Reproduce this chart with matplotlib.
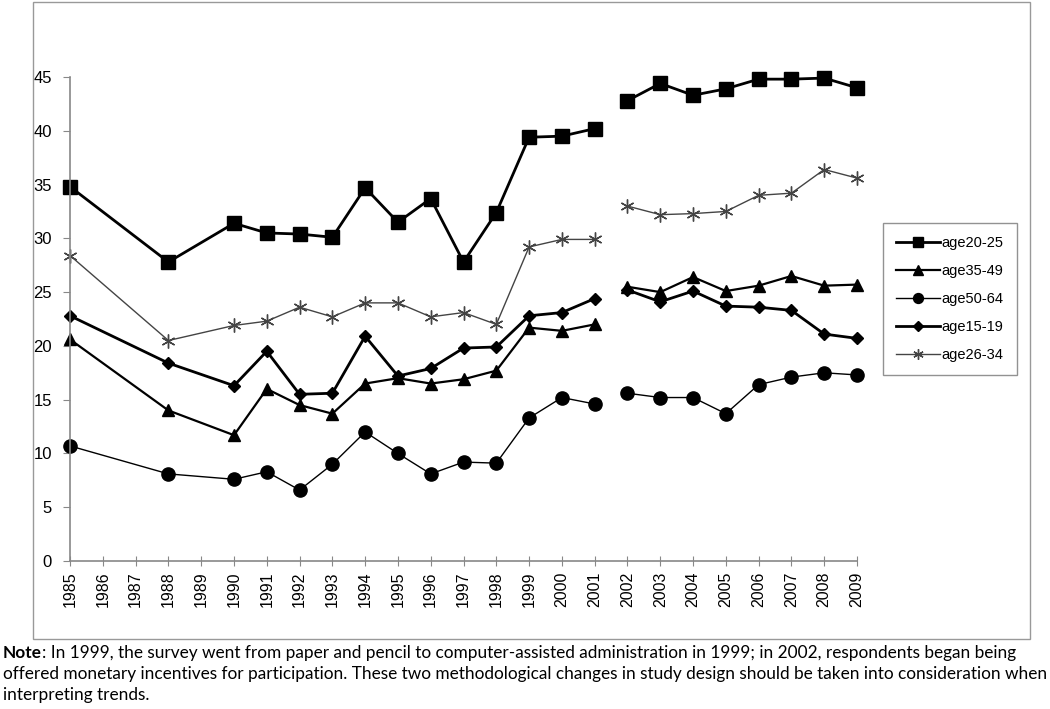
import matplotlib
matplotlib.use("Agg")
import matplotlib.pyplot as plt
from matplotlib.patches import Rectangle
import numpy as np

# survey years (1986, 1987, 1989 missing)
years = [1985, 1988, 1990, 1991, 1992, 1993, 1994, 1995, 1996, 1997, 1998,
         1999, 2000, 2001, 2002, 2003, 2004, 2005, 2006, 2007, 2008, 2009]
break_year = 2002  # methodology change -> lines not connected

age20_25 = [34.8, 27.8, 31.4, 30.5, 30.4, 30.1, 34.7, 31.5, 33.7, 27.8, 32.4,
            39.4, 39.5, 40.2, 42.8, 44.4, 43.3, 43.9, 44.8, 44.8, 44.9, 44.0]
age35_49 = [20.6, 14.0, 11.7, 16.0, 14.5, 13.7, 16.5, 17.0, 16.5, 16.9, 17.7,
            21.7, 21.4, 22.0, 25.5, 25.0, 26.4, 25.1, 25.6, 26.5, 25.6, 25.7]
age50_64 = [10.7, 8.1, 7.6, 8.3, 6.6, 9.0, 12.0, 10.0, 8.1, 9.2, 9.1,
            13.3, 15.2, 14.6, 15.6, 15.2, 15.2, 13.7, 16.4, 17.1, 17.5, 17.3]
age15_19 = [22.8, 18.4, 16.3, 19.5, 15.5, 15.6, 20.9, 17.2, 17.9, 19.8, 19.9,
            22.8, 23.1, 24.4, 25.2, 24.1, 25.1, 23.7, 23.6, 23.3, 21.1, 20.7]
age26_34 = [28.4, 20.5, 21.9, 22.3, 23.6, 22.7, 24.0, 24.0, 22.7, 23.1, 22.0,
            29.2, 29.9, 29.9, 33.0, 32.2, 32.3, 32.5, 34.0, 34.2, 36.4, 35.6]

xtick_years = list(range(1985, 2010))
yticks = [0, 5, 10, 15, 20, 25, 30, 35, 40, 45]

note_bold = "Note"
note_lines = [
    ": In 1999, the survey went from paper and pencil to computer-assisted administration in 1999; in 2002, respondents began being",
    "offered monetary incentives for participation. These two methodological changes in study design should be taken into consideration when",
    "interpreting trends.",
]

series = [
    ("age20-25", age20_25, dict(marker="s", ms=10, color="black", lw=2.0)),
    ("age35-49", age35_49, dict(marker="^", ms=9, color="black", lw=1.6)),
    ("age50-64", age50_64, dict(marker="o", ms=9.5, color="black", lw=1.0, mfc="black")),
    ("age15-19", age15_19, dict(marker="D", ms=6.5, color="black", lw=2.0)),
    ("age26-34", age26_34, dict(marker=(6, 2, 0), ms=10, color="#444444", lw=1.0, mew=1.0)),
]

fig = plt.figure(figsize=(10.5, 7.09), dpi=100)
ax = fig.add_axes([0.0667, 0.2087, 0.7495, 0.6827])

yr = np.array(years)
first = yr < break_year
second = yr >= break_year
for label, vals, style in series:
    v = np.array(vals)
    ax.plot(yr[first], v[first], label=label, clip_on=False, **style)
    ax.plot(yr[second], v[second], clip_on=False, **style)

ax.set_xlim(1985, 2009)
ax.set_ylim(0, 45)
ax.set_xticks(xtick_years)
ax.set_xticklabels([str(y) for y in xtick_years], rotation=90, fontsize=11.5,
                   family="Liberation Sans")
ax.set_yticks(yticks)
ax.set_yticklabels([str(t) for t in yticks], fontsize=12, family="Liberation Sans")
for s in ["top", "right"]:
    ax.spines[s].set_visible(False)
for s in ["left", "bottom"]:
    ax.spines[s].set_color("#888888")
    ax.spines[s].set_linewidth(1.2)
ax.tick_params(axis="x", direction="inout", length=7, color="#888888", pad=4)
ax.tick_params(axis="y", direction="out", length=5, color="#888888", pad=8)

leg = fig.legend(loc="upper left", bbox_to_anchor=(0.841, 0.685),
                 prop={"family": "Liberation Sans", "size": 10.5},
                 frameon=True, fancybox=False, handlelength=3.0, markerscale=0.75,
                 handletextpad=0.1, labelspacing=0.95, borderpad=0.9,
                 borderaxespad=0)
leg.get_frame().set_edgecolor("#777777")
leg.get_frame().set_linewidth(1.0)

fig.patches.append(Rectangle((0.0314, 0.0987), 0.9496, 0.8983, transform=fig.transFigure,
                             fill=False, edgecolor="#999999", lw=1.0))

# note below the chart; scale the font so the longest line fills the width
note_font = "Lato"
x0 = 3 / 1050
target_w = 1045
fig.canvas.draw()
renderer = fig.canvas.get_renderer()
probe = fig.text(0, 0, note_lines[1], fontsize=12, family=note_font)
w = probe.get_window_extent(renderer).width
probe.remove()
fs = 12 * target_w / w

baselines = [658, 679, 700]
t = fig.text(x0, 1 - baselines[0] / 709, note_bold, fontsize=fs, fontweight="bold",
             family=note_font, va="baseline", ha="left")
bb = t.get_window_extent(renderer).transformed(fig.transFigure.inverted())
fig.text(bb.x1, 1 - baselines[0] / 709, note_lines[0], fontsize=fs, family=note_font,
         va="baseline", ha="left")
for line, b in zip(note_lines[1:], baselines[1:]):
    fig.text(x0, 1 - b / 709, line, fontsize=fs, family=note_font,
             va="baseline", ha="left")

fig.savefig("out.png", dpi=100)
